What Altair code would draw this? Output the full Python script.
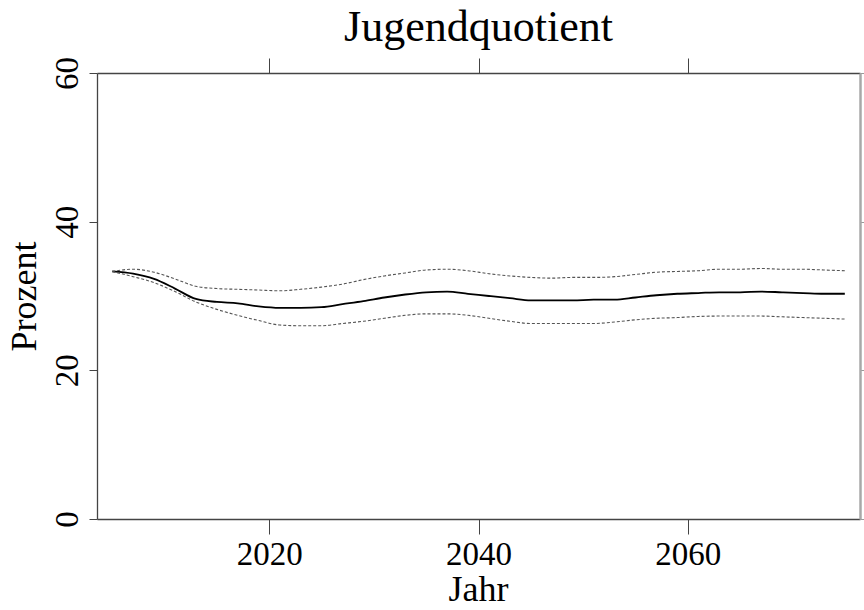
import altair as alt
import pandas as pd

# Projection years and youth dependency ratio (percent): median and bounds
years = [2005, 2007, 2009, 2011, 2013, 2015, 2017, 2019, 2021, 2023, 2025, 2027,
         2029, 2031, 2033, 2035, 2037, 2039, 2041, 2043, 2045, 2047, 2049, 2051,
         2053, 2055, 2057, 2059, 2061, 2063, 2065, 2067, 2069, 2071, 2073, 2075]
median = [33.3, 33.0, 32.3, 31.0, 29.6, 29.2, 29.0, 28.6, 28.4, 28.4, 28.5, 28.9,
          29.3, 29.8, 30.2, 30.5, 30.6, 30.3, 30.0, 29.7, 29.4, 29.4, 29.4, 29.5,
          29.5, 29.8, 30.1, 30.3, 30.4, 30.5, 30.5, 30.6, 30.5, 30.4, 30.3, 30.3]
upper = [33.3, 33.6, 33.2, 32.3, 31.3, 31.0, 30.9, 30.8, 30.7, 30.9, 31.2, 31.6,
         32.2, 32.7, 33.1, 33.5, 33.6, 33.4, 33.0, 32.7, 32.5, 32.4, 32.5, 32.5,
         32.6, 32.9, 33.2, 33.3, 33.4, 33.6, 33.6, 33.7, 33.6, 33.6, 33.5, 33.4]
lower = [33.3, 32.6, 31.8, 30.6, 29.2, 28.2, 27.4, 26.7, 26.1, 26.0, 26.0, 26.3,
         26.6, 27.0, 27.4, 27.6, 27.6, 27.4, 27.0, 26.6, 26.3, 26.3, 26.3, 26.3,
         26.5, 26.8, 27.0, 27.1, 27.25, 27.3, 27.3, 27.3, 27.2, 27.1, 27.0, 26.9]

x_ticks = [2020, 2040, 2060]
y_ticks = [0, 20, 40, 60]

df = pd.DataFrame({"Jahr": years, "median": median, "upper": upper, "lower": lower})

FONT = "Liberation Serif"
AXIS_COLOR = "#444444"

x_scale = alt.Scale(domain=[2003.55, 2076.45], nice=False, zero=False)
y_scale = alt.Scale(domain=[0, 60], nice=False)

x_bottom = alt.Axis(
    values=x_ticks, format="d", grid=False, orient="bottom",
    tickSize=15, tickColor=AXIS_COLOR, domainColor=AXIS_COLOR, domainWidth=1.3,
    labelFont=FONT, labelFontSize=33, labelColor="black",
    labelBaseline="alphabetic", labelPadding=30,
    title="Jahr", titleFont=FONT, titleFontSize=36, titleFontWeight="normal",
    titleColor="black", titleBaseline="alphabetic", titleX=381, titleY=81,
    titleAlign="center",
)
y_left = alt.Axis(
    values=y_ticks, grid=False, orient="left",
    tickSize=8, tickColor=AXIS_COLOR, domainColor=AXIS_COLOR, domainWidth=1.3,
    labelFont=FONT, labelFontSize=33, labelColor="black",
    labelAngle=270, labelAlign="center", labelBaseline="alphabetic",
    labelPadding=12,
    title="Prozent", titleFont=FONT, titleFontSize=36, titleFontWeight="normal",
    titleColor="black", titleAngle=270, titleBaseline="alphabetic",
    titleAlign="center", titleX=-62, titleY=223,
)

base = alt.Chart(df)

mid_line = base.mark_line(color="black", strokeWidth=1.8, interpolate="monotone").encode(
    x=alt.X("Jahr:Q", scale=x_scale, axis=x_bottom),
    y=alt.Y("median:Q", scale=y_scale, axis=y_left),
)

hi_line = base.mark_line(color="#555555", strokeWidth=1.1, strokeDash=[3, 2],
                         interpolate="monotone").encode(
    x=alt.X("Jahr:Q", scale=x_scale, axis=None),
    y=alt.Y("upper:Q", scale=y_scale, axis=None),
)

lo_line = base.mark_line(color="#555555", strokeWidth=1.1, strokeDash=[3, 2],
                         interpolate="monotone").encode(
    x=alt.X("Jahr:Q", scale=x_scale, axis=None),
    y=alt.Y("lower:Q", scale=y_scale, axis=None),
)

# Mirror ticks on the top and right edges (no labels)
frame = base.mark_line(opacity=0).encode(
    x=alt.X("Jahr:Q", scale=x_scale, axis=alt.Axis(
        values=x_ticks, orient="top", labels=False, title=None, grid=False,
        tickSize=15, tickColor=AXIS_COLOR, domainColor=AXIS_COLOR, domainWidth=1.3)),
    y=alt.Y("median:Q", scale=y_scale, axis=alt.Axis(
        values=y_ticks, orient="right", labels=False, title=None, grid=False,
        tickSize=5, tickColor="#999999", domainColor="#a8a8a8", domainWidth=2.5)),
)

chart = alt.layer(mid_line, hi_line, lo_line, frame).resolve_axis(
    x="independent", y="independent"
).properties(
    width=763,
    height=446,
    title=alt.TitleParams(
        "Jugendquotient", font=FONT, fontSize=44, fontWeight="normal",
        color="black", anchor="middle", baseline="alphabetic", offset=-28,
    ),
    autosize=alt.AutoSizeParams(type="none"),
    padding={"left": 97, "top": 73, "right": 4, "bottom": 91},
    background="white",
).configure_view(stroke=None)

chart.save("out.html", embed_options={"renderer": "svg", "actions": False})
